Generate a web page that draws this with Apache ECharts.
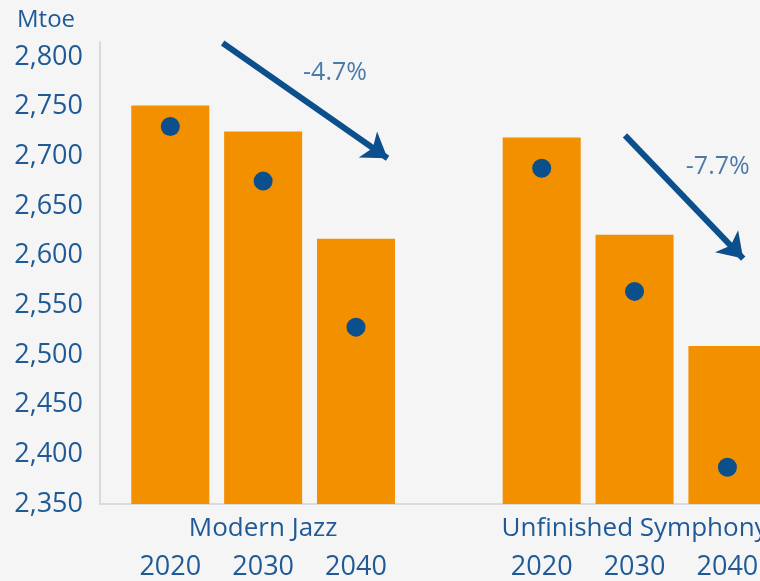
<!DOCTYPE html>
<html>
<head>
<meta charset="utf-8">
<script src="https://cdn.jsdelivr.net/npm/echarts@6/dist/echarts.min.js"></script>
<style>
html,body{margin:0;padding:0;background:#f5f5f5;}
#chart{width:760px;height:581px;}
</style>
</head>
<body>
<div id="chart"></div>
<script>
// ---- data ----
const groups = ['Modern Jazz', 'Unfinished Symphony'];
const years = ['2020', '2030', '2040'];
// slot index of each bar on the x axis (slot 3 is the gap between groups)
const slots = [0, 1, 2, 4, 5, 6];
const barValues = [2751, 2725, 2617, 2719, 2621, 2509];
const dotValues = [2730, 2675, 2528, 2688, 2564, 2387];
const yTicks = [2350, 2400, 2450, 2500, 2550, 2600, 2650, 2700, 2750, 2800];
const changeLabels = ['-4.7%', '-7.7%'];
// arrow annotations in data units: [xStart, yStart, xEnd, yEnd]
const arrows = [[0.564, 2814, 2.34, 2698], [4.897, 2721, 6.17, 2597]];
const labelAnchors = [[1.774, 2784], [5.896, 2689]];

const blue = '#0b4f8c';
const textBlue = '#1f5a97';
const orange = '#f39000';
const font = 'Open Sans';

const chart = echarts.init(document.getElementById('chart'));
chart.setOption({
  backgroundColor: '#f5f5f5',
  animation: false,
  title: {
    text: 'Mtoe', left: 12, top: 3,
    textStyle: {color: textBlue, fontFamily: font, fontSize: 24, fontWeight: 'normal'}
  },
  grid: {left: 100, right: 0, top: 42, bottom: 77, containLabel: false, outerBoundsMode: 'none'},
  xAxis: [{
    type: 'value', min: -0.757, max: 6.351,
    splitLine: {show: false},
    axisTick: {show: false},
    axisLine: {show: true, onZero: false, lineStyle: {color: '#dadada', width: 2}},
    axisLabel: {
      customValues: slots,
      margin: 50,
      color: textBlue, fontFamily: font, fontSize: 27,
      formatter: v => years[slots.indexOf(Math.round(v)) % 3]
    }
  }, {
    type: 'value', min: -0.757, max: 6.351, position: 'bottom',
    splitLine: {show: false},
    axisTick: {show: false},
    axisLine: {show: false, onZero: false},
    axisLabel: {
      customValues: [1, 5],
      margin: 12,
      color: textBlue, fontFamily: font, fontSize: 26,
      formatter: v => groups[v === 1 ? 0 : 1]
    }
  }],
  yAxis: {
    type: 'value', min: 2350, max: 2815, interval: 50,
    splitLine: {show: false},
    axisTick: {show: false},
    axisLine: {show: true, onZero: false, lineStyle: {color: '#dadada', width: 2}},
    axisLabel: {
      margin: 17, showMaxLabel: false,
      color: textBlue, fontFamily: font, fontSize: 27,
      formatter: v => yTicks.includes(v) ? v.toLocaleString('en-US') : ''
    }
  },
  series: [{
    type: 'bar',
    barWidth: 78,
    itemStyle: {color: orange},
    data: slots.map((s, i) => [s, barValues[i]]),
    z: 1
  }, {
    type: 'scatter',
    symbolSize: 19,
    itemStyle: {color: blue, opacity: 1},
    data: slots.map((s, i) => [s, dotValues[i]]),
    z: 3,
    markLine: {
      silent: true,
      symbol: ['none', 'arrow'],
      symbolSize: [24, 24],
      label: {show: false},
      lineStyle: {color: blue, width: 6, type: 'solid', opacity: 1},
      data: arrows.map(a => [{coord: [a[0], a[1]]}, {coord: [a[2], a[3]]}])
    }
  }, {
    type: 'scatter',
    symbolSize: 0,
    silent: true,
    data: labelAnchors.map((p, i) => [p[0], p[1], changeLabels[i]]),
    label: {
      show: true, position: 'inside',
      formatter: p => p.data[2],
      color: textBlue, fontFamily: font, fontSize: 25
    }
  }]
});
</script>
</body>
</html>
